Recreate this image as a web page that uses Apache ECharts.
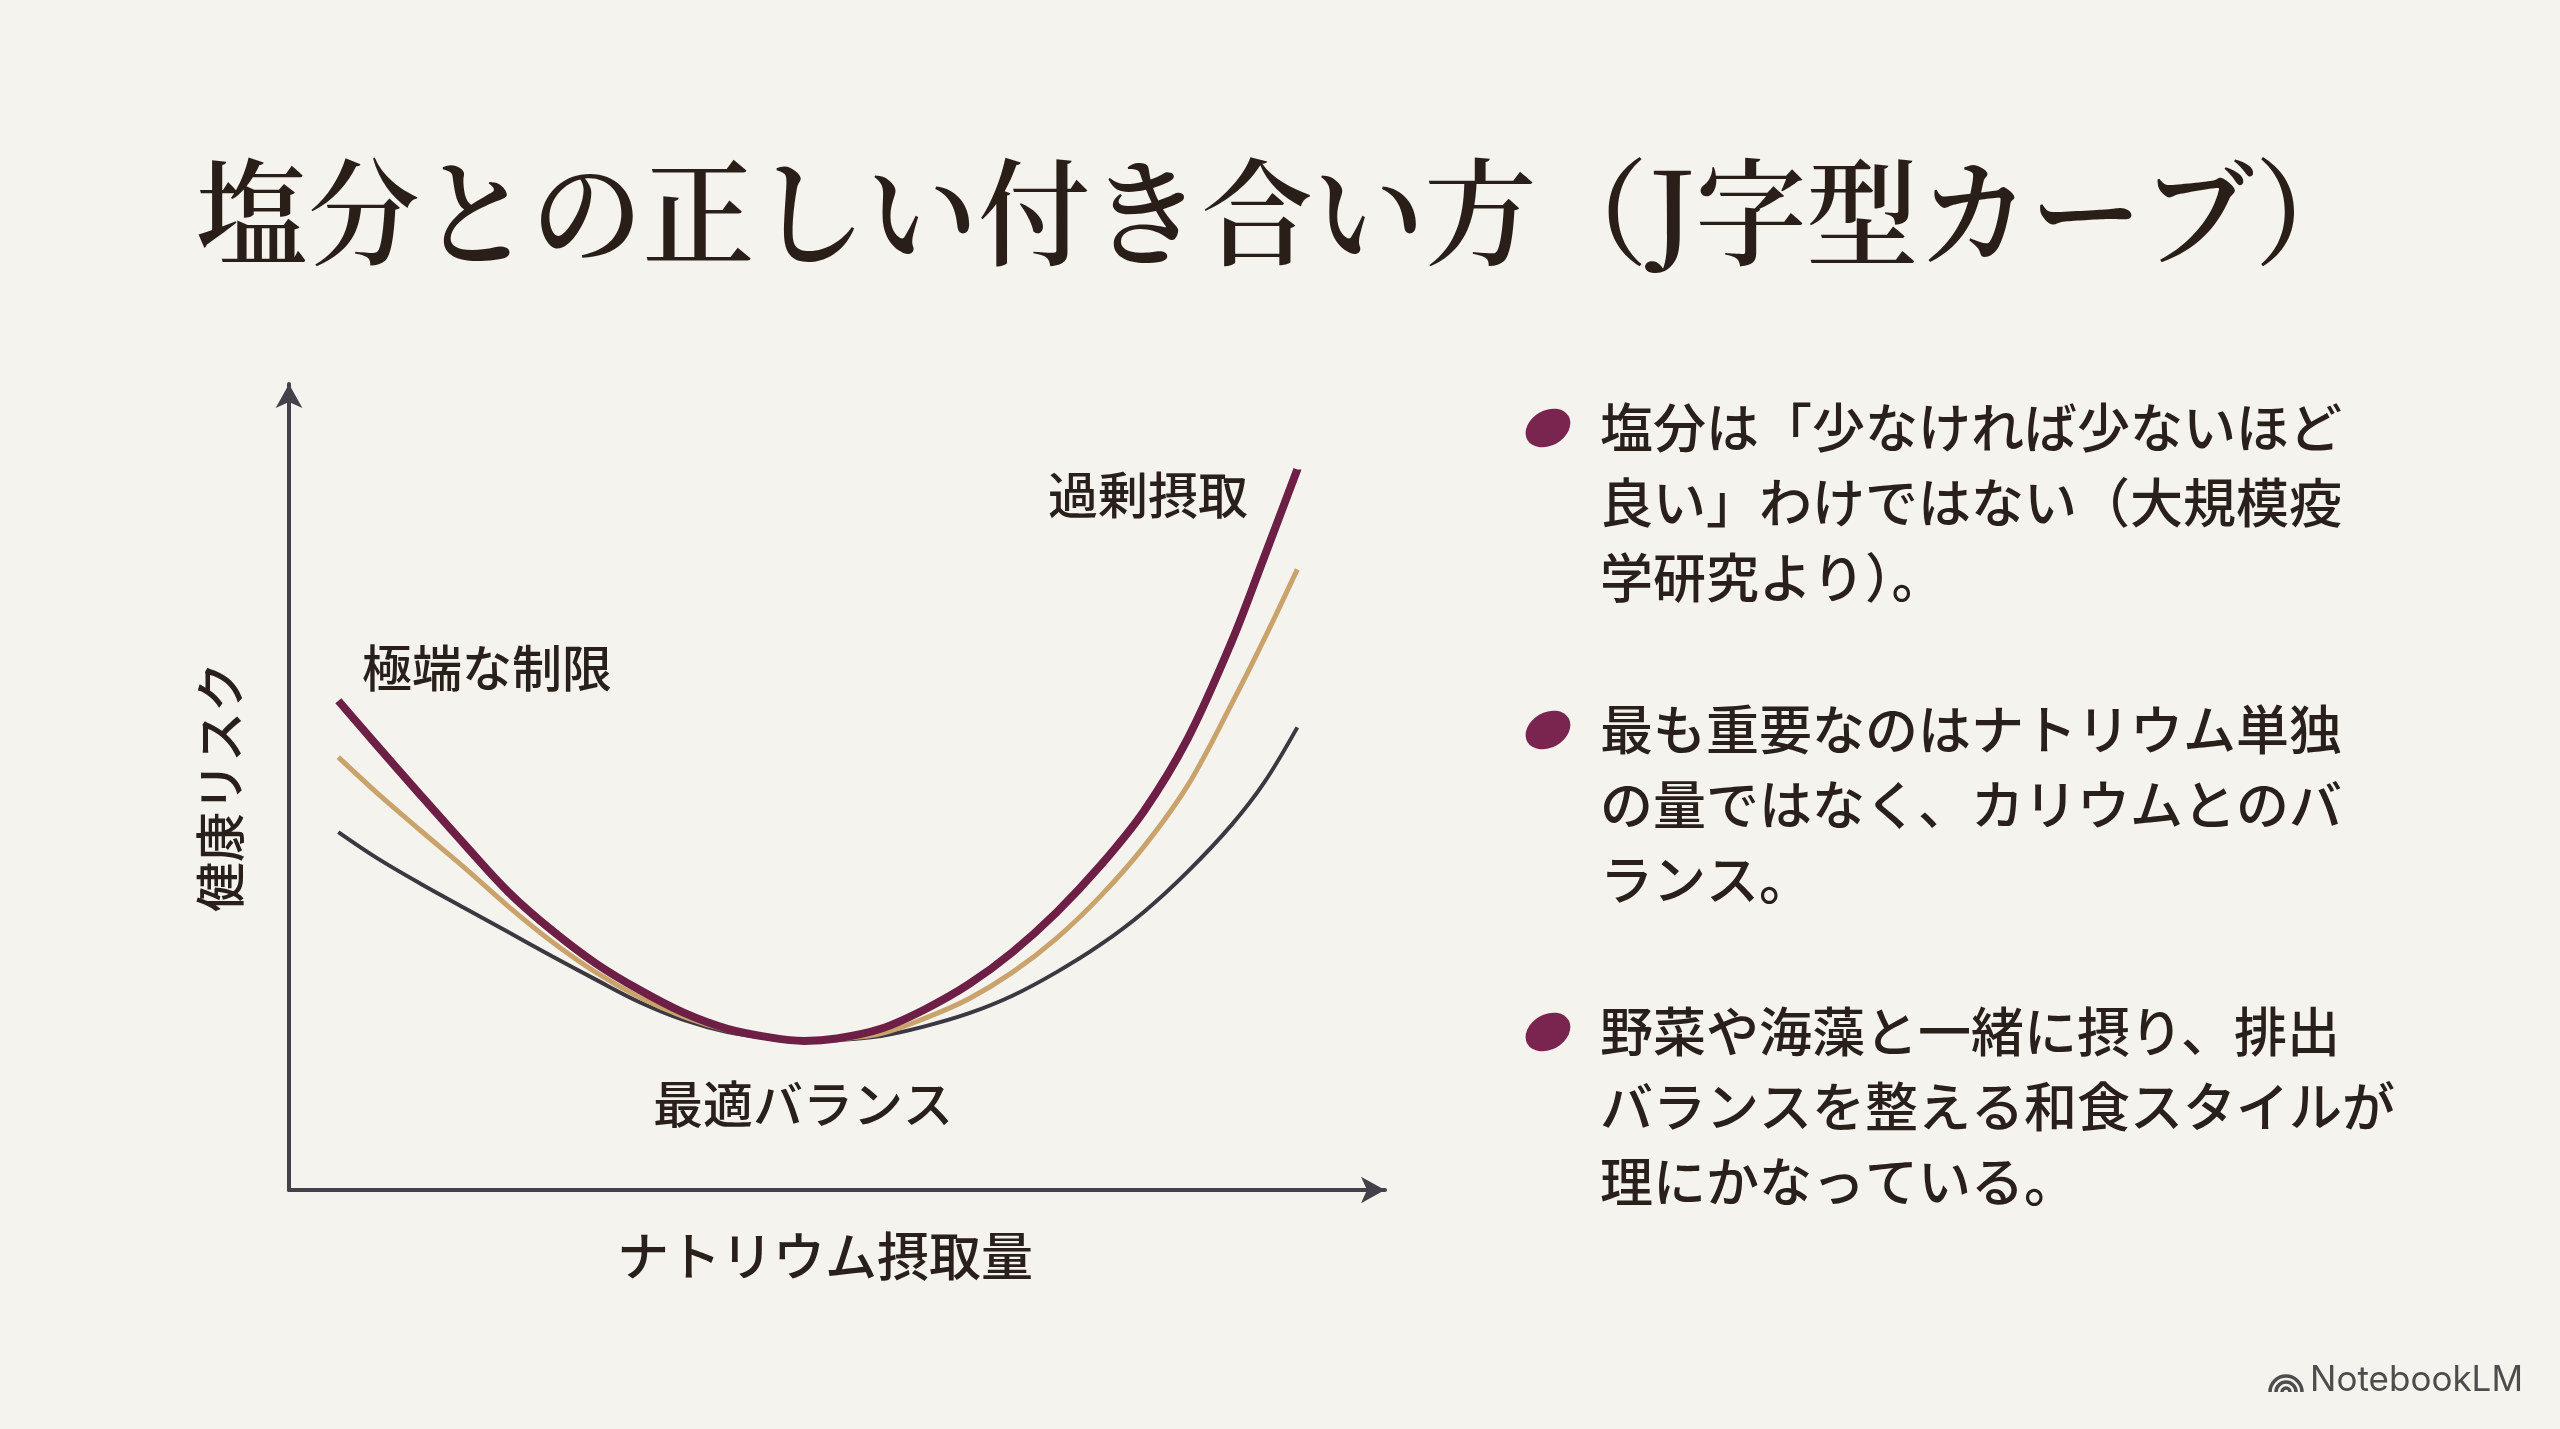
<!DOCTYPE html>
<html><head><meta charset="utf-8">
<script src="https://cdn.jsdelivr.net/npm/echarts@6/dist/echarts.min.js"></script>
<style>html,body{margin:0;padding:0;background:#f5f3ee}#c{width:2560px;height:1429px}</style>
</head><body><div id="c"></div>
<script>
// ---- data ----
const sodiumX    = [4.5, 8, 12, 16, 20, 24, 28, 32, 36, 40, 44, 47, 50, 54, 58, 62, 66, 70, 74, 78, 82, 86, 89, 92];
const riskMaroon = [60.7, 55.2, 49.0, 42.9, 37.0, 32.2, 28.1, 24.8, 22.0, 20.0, 18.9, 18.5, 18.8, 20.0, 22.4, 25.5, 29.5, 34.4, 40.2, 47.0, 56.0, 68.0, 78.6, 89.4];
const riskGold   = [53.7, 49.3, 44.6, 40.0, 35.2, 30.8, 27.0, 23.9, 21.5, 19.8, 18.8, 18.5, 18.7, 19.4, 21.3, 23.7, 27.0, 31.2, 36.4, 42.6, 50.2, 60.3, 68.4, 77.0];
const riskGray   = [44.4, 41.2, 38.0, 35.0, 32.0, 29.0, 26.1, 23.3, 21.1, 19.6, 18.8, 18.5, 18.6, 19.1, 20.3, 21.9, 24.1, 27.0, 30.4, 34.5, 39.5, 45.3, 50.6, 57.4];
const seriesNames = ['曲線A', '曲線B', '曲線C'];

const titleText = '塩分との正しい付き合い方（J字型カーブ）';
const xAxisName = 'ナトリウム摂取量';
const yAxisName = '健康リスク';
const labelHigh = '過剰摂取';
const labelLow  = '極端な制限';
const labelOpt  = '最適バランス';
const bullet1 = ['塩分は「少なければ少ないほど', '良い」わけではない（大規模疫', '学研究より）。'];
const bullet2 = ['最も重要なのはナトリウム単独', 'の量ではなく、カリウムとのバ', 'ランス。'];
const bullet3 = ['野菜や海藻と一緒に摂り、排出', 'バランスを整える和食スタイルが', '理にかなっている。'];
const brand = 'NotebookLM';

// ---- build ----
const pairs = ys => sodiumX.map((x, i) => [x, ys[i]]);
const FONT = '"Noto Sans CJK JP", "Noto Sans", sans-serif';
const TXT = '#2a201b';

const bulletTops = [428, 730, 1032];
const graphics = [];
graphics.push({type:'text', x:196, y:212, scaleX:0.963, style:{text:titleText, font:'600 116px "Noto Serif CJK JP", "Noto Sans CJK JP", serif', fill:'#2a1f18', textVerticalAlign:'middle'}});
[bullet1, bullet2, bullet3].forEach((lines, k) => {
  const cy = bulletTops[k];
  graphics.push({type:'circle', x:1548, y:cy, scaleX:1.22, scaleY:0.9, rotation:Math.PI/6,
    shape:{cx:0, cy:0, r:19.5}, style:{fill:'#7a2450'}});
  graphics.push({type:'text', x:1600, y:cy - 37.5, style:{text:lines.join('\n'), font:'500 53px ' + FONT, fill:TXT, lineHeight:75}});
});
graphics.push({type:'text', x:1148, y:495, style:{text:labelHigh, font:'500 50px ' + FONT, fill:TXT, textAlign:'center', textVerticalAlign:'middle'}});
graphics.push({type:'text', x:487, y:668, style:{text:labelLow, font:'500 50px ' + FONT, fill:TXT, textAlign:'center', textVerticalAlign:'middle'}});
graphics.push({type:'text', x:803, y:1104, style:{text:labelOpt, font:'500 50px ' + FONT, fill:TXT, textAlign:'center', textVerticalAlign:'middle'}});
// brand
graphics.push({type:'text', x:2523, y:1380, style:{text:brand, font:'400 35px "Inter", "Noto Sans", sans-serif', fill:'#4d4d4d', textAlign:'right', textVerticalAlign:'middle'}});
[16, 10, 4].forEach(r => graphics.push({type:'arc', shape:{cx:2286, cy:1392, r:r, startAngle:Math.PI, endAngle:2*Math.PI}, style:{stroke:'#4d4d4d', lineWidth:3.5, fill:null}}));

const chart = echarts.init(document.getElementById('c'));
chart.setOption({
  backgroundColor: '#f5f3ee',
  animation: false,
  grid: {left:289, top:384, width:1096, height:806},
  xAxis: {type:'value', min:0, max:100,
    name:xAxisName, nameLocation:'middle', nameGap:40,
    nameTextStyle:{fontFamily:'Noto Sans CJK JP', fontSize:52, fontWeight:500, color:TXT, padding:[0,24,0,0]},
    axisLine:{show:true, lineStyle:{color:'#45414a', width:4}, symbol:['none','arrow'], symbolSize:[20,24]},
    axisTick:{show:false}, axisLabel:{show:false}, splitLine:{show:false}},
  yAxis: {type:'value', min:0, max:100,
    name:yAxisName, nameLocation:'middle', nameGap:44, nameRotate:90,
    nameTextStyle:{fontFamily:'Noto Sans CJK JP', fontSize:50, fontWeight:500, color:TXT},
    axisLine:{show:true, lineStyle:{color:'#45414a', width:4}, symbol:['none','arrow'], symbolSize:[20,24]},
    axisTick:{show:false}, axisLabel:{show:false}, splitLine:{show:false}},
  series: [
    {name:seriesNames[2], type:'line', data:pairs(riskGray), smooth:0.35, showSymbol:false, lineStyle:{color:'#3b3842', width:4}, z:2},
    {name:seriesNames[1], type:'line', data:pairs(riskGold), smooth:0.35, showSymbol:false, lineStyle:{color:'#c9a36b', width:5}, z:3},
    {name:seriesNames[0], type:'line', data:pairs(riskMaroon), smooth:0.35, showSymbol:false, lineStyle:{color:'#6e1f45', width:8}, z:4}
  ],
  graphic: graphics
});
</script></body></html>
